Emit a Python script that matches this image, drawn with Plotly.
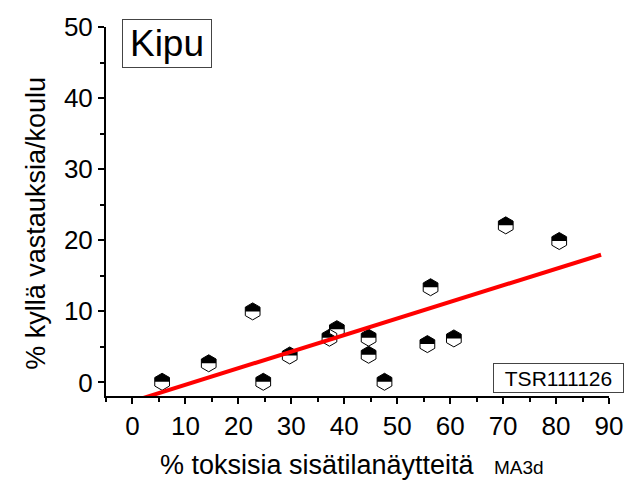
import numpy as np
import plotly.graph_objects as go

# ---------------- data ----------------
x_toxic = [5.6, 14.4, 22.7, 24.7, 29.7, 37.2, 38.6, 44.6, 44.6, 47.6, 56.3, 55.7, 60.7, 70.5, 80.6]
y_yes = [0.1, 2.7, 10.0, 0.1, 3.8, 6.3, 7.5, 6.3, 3.9, 0.1, 13.4, 5.4, 6.2, 22.1, 19.9]
fit_range = [0.0, 88.5]
x_ticks = [0, 10, 20, 30, 40, 50, 60, 70, 80, 90]
y_ticks = [0, 10, 20, 30, 40, 50]
title_text = "Kipu"
code_text = "TSR111126"
x_title = "% toksisia sisätilanäytteitä"
x_title_sub = "MA3d"
y_title = "% kyllä vastauksia/koulu"

# ---------------- styling ----------------
W, H = 635, 483
ML, MR, MT, MB = 106, 23, 20, 87
FONT = "Liberation Sans, Arial, sans-serif"
R = 8.5                      # hexagon circumradius (px)
A = round(R * np.sqrt(3) / 2, 2)
HF = R / 2
hex_full = f"M 0,{R} L {A},{HF} L {A},{-HF} L 0,{-R} L {-A},{-HF} L {-A},{HF} Z"
hex_top = f"M {-A},0 L {-A},{HF} L 0,{R} L {A},{HF} L {A},0 Z"

pw = W - ML - MR
ph = H - MT - MB
def px2paper_x(px):
    return (px - ML) / pw
def px2paper_y(py):
    return (H - MB - py) / ph

# regression line
slope, intercept = np.polyfit(x_toxic, y_yes, 1)
fit_x = np.array(fit_range)
fit_y = intercept + slope * fit_x

fig = go.Figure()

shapes = []
for xv, yv in zip(x_toxic, y_yes):
    shapes.append(dict(type="path", xref="x", yref="y", xsizemode="pixel", ysizemode="pixel",
                       xanchor=xv, yanchor=yv, path=hex_full, fillcolor="white",
                       line=dict(width=0), layer="below"))
    shapes.append(dict(type="path", xref="x", yref="y", xsizemode="pixel", ysizemode="pixel",
                       xanchor=xv, yanchor=yv, path=hex_top, fillcolor="black",
                       line=dict(width=0), layer="below"))

fig.add_trace(go.Scatter(
    x=x_toxic, y=y_yes, mode="markers",
    marker=dict(symbol="hexagon-open", size=2 * R, color="black", line=dict(width=1, color="black")),
    showlegend=False, hoverinfo="x+y"))

fig.add_trace(go.Scatter(
    x=fit_x, y=fit_y, mode="lines",
    line=dict(color="#ff0000", width=4),
    showlegend=False, hoverinfo="skip"))

axis_common = dict(
    showline=True, linecolor="black", linewidth=2, mirror=False,
    showgrid=False, zeroline=False,
    ticks="outside", tickcolor="black", tickwidth=2, ticklen=6,
    tickfont=dict(family=FONT, size=26, color="black"),
)

fig.update_xaxes(range=[-5, 90], tickmode="array", tickvals=x_ticks,
                 ticktext=[str(v) for v in x_ticks],
                 minor=dict(dtick=5, tick0=0, ticks="outside", ticklen=4, tickwidth=2, tickcolor="black"),
                 **axis_common)
fig.update_yaxes(range=[-1.9, 50], tickmode="array", tickvals=y_ticks,
                 ticktext=[str(v) for v in y_ticks],
                 minor=dict(dtick=5, tick0=0, ticks="outside", ticklen=4, tickwidth=2, tickcolor="black"),
                 **axis_common)

annotations = [
    dict(text=title_text, xref="paper", yref="paper", x=px2paper_x(167.7), y=px2paper_y(36.5),
         showarrow=False, xanchor="center", yanchor="middle",
         font=dict(family=FONT, size=37, color="black"),
         bordercolor="#444444", borderwidth=1, borderpad=2, bgcolor="white", width=84, height=43),
    dict(text=code_text, xref="paper", yref="paper", x=px2paper_x(561.5), y=px2paper_y(378),
         showarrow=False, xanchor="center", yanchor="middle",
         font=dict(family=FONT, size=21, color="black"),
         bordercolor="#444444", borderwidth=1, borderpad=2, bgcolor="white", width=125, height=24),
    dict(text=y_title, xref="paper", yref="paper", x=px2paper_x(36), y=px2paper_y(220),
         showarrow=False, xanchor="center", yanchor="middle", textangle=-90,
         font=dict(family=FONT, size=27, color="black")),
    dict(text=x_title, xref="paper", yref="paper", x=px2paper_x(319), y=px2paper_y(466),
         showarrow=False, xanchor="center", yanchor="middle",
         font=dict(family=FONT, size=27, color="black")),
    dict(text=x_title_sub, xref="paper", yref="paper", x=px2paper_x(521), y=px2paper_y(469),
         showarrow=False, xanchor="center", yanchor="middle",
         font=dict(family=FONT, size=19, color="black")),
]

fig.update_layout(
    width=W, height=H,
    margin=dict(l=ML, r=MR, t=MT, b=MB, pad=0),
    paper_bgcolor="white", plot_bgcolor="white",
    shapes=shapes, annotations=annotations,
    font=dict(family=FONT, color="black"),
)

fig.write_html("out.html")
